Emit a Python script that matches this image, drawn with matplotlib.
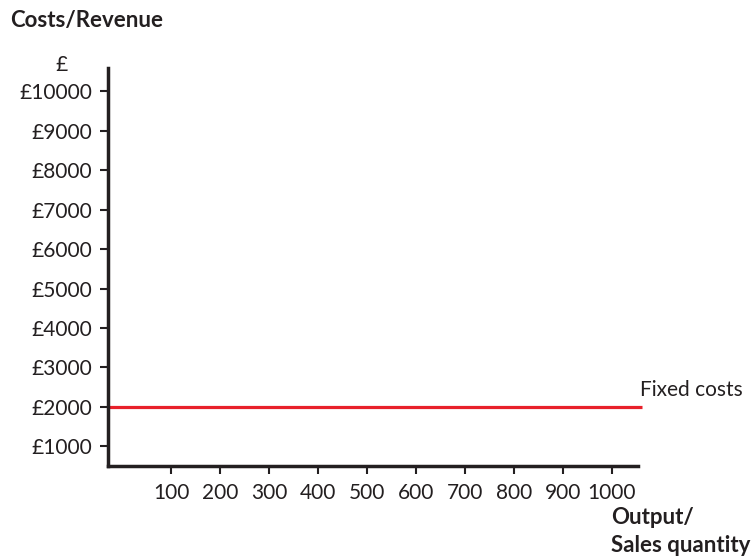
import matplotlib.pyplot as plt

# chart values
output_ticks = [100, 200, 300, 400, 500, 600, 700, 800, 900, 1000]
cost_ticks = [1000, 2000, 3000, 4000, 5000, 6000, 7000, 8000, 9000, 10000]
cost_labels = ['£%d' % v for v in cost_ticks]
fixed_costs = 2000
line_x = [-29, 1061]

plt.rcParams['font.family'] = ['Lato', 'DejaVu Sans']

fig = plt.figure(figsize=(7.54, 5.56), dpi=100)
ax = fig.add_axes([0.143, 0.162, 0.703, 0.716])

ax.plot(line_x, [fixed_costs, fixed_costs], color='#e8202a', lw=2.3,
        clip_on=False, solid_capstyle='butt')

ax.set_xlim(-29, 1053)
ax.set_ylim(500, 10600)
ax.set_xticks(output_ticks)
ax.set_xticklabels([str(v) for v in output_ticks], fontsize=15)
ax.set_yticks(cost_ticks)
ax.set_yticklabels(cost_labels, fontsize=15)
ax.tick_params(axis='both', length=6, width=1.5, color='#231f20',
               labelcolor='#231f20')
ax.tick_params(axis='x', pad=6)
ax.tick_params(axis='y', pad=5)

for side in ['top', 'right']:
    ax.spines[side].set_visible(False)
for side in ['left', 'bottom']:
    ax.spines[side].set_linewidth(2.5)
    ax.spines[side].set_color('#231f20')

fig.text(10 / 754, 1 - 20 / 556, 'Costs/Revenue', fontsize=16,
         fontweight='bold', color='#231f20', va='center', ha='left')
fig.text(62 / 754, 1 - 65 / 556, '£', fontsize=15, color='#231f20',
         va='center', ha='center')
fig.text(640 / 754, 1 - 390 / 556, 'Fixed costs', fontsize=15,
         color='#231f20', va='center', ha='left')
fig.text(611 / 754, 1 - 518 / 556, 'Output/', fontsize=16,
         fontweight='bold', color='#231f20', va='center', ha='left')
fig.text(611 / 754, 1 - 545 / 556, 'Sales quantity', fontsize=16,
         fontweight='bold', color='#231f20', va='center', ha='left')

fig.savefig('out.png', dpi=100)
